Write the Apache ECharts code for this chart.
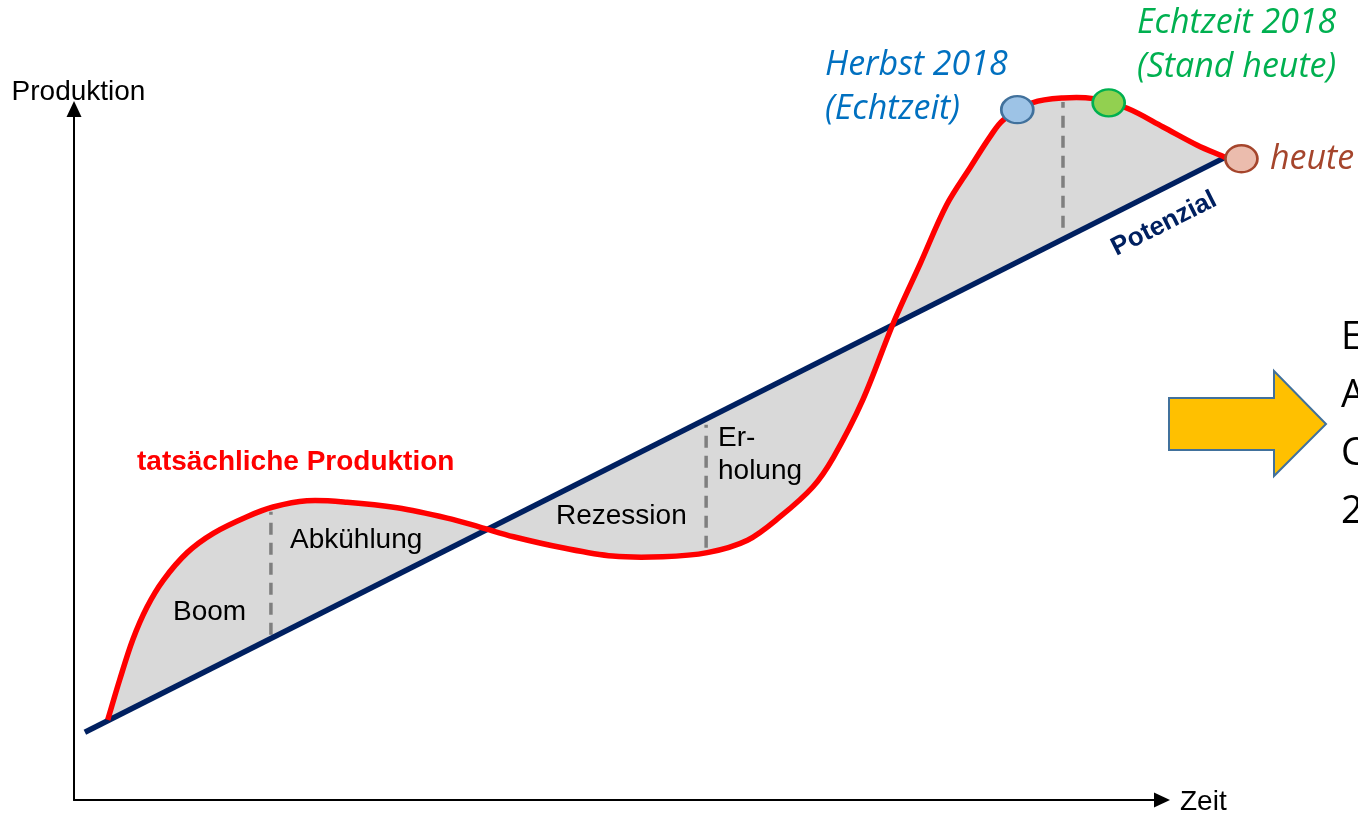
<!DOCTYPE html>
<html>
<head>
<meta charset="utf-8">
<script src="https://cdn.jsdelivr.net/npm/echarts@6/dist/echarts.min.js"></script>
<style>
  html, body { margin: 0; padding: 0; background: #fff; }
  #chart { width: 1358px; height: 814px; }
</style>
</head>
<body>
<div id="chart"></div>
<script>
// Zeit (x) und Produktion (y); sichtbare Achsen laufen von 0 bis 100
const zeit = [3.1, 4.2, 5.4, 6.7, 8.2, 10.4, 12.8, 15.9, 18.3, 21.4, 25.1, 29.7, 34.3, 37.3, 40.4, 44.9, 49.5, 54.1, 58.2, 61.9, 64.9, 67.9, 69.8, 72.5, 75.3, 77.8, 80.2, 82.4, 84.2, 85.4, 88.1, 90.9, 93.7, 96.8, 100.1, 103.2, 105.8];
const produktion = [11.6, 17.4, 23.2, 27.9, 31.8, 35.8, 38.6, 41.0, 42.4, 43.3, 43.1, 42.3, 40.8, 39.5, 38.1, 36.5, 35.3, 35.2, 35.8, 37.6, 41.0, 45.3, 49.6, 57.9, 69.0, 77.7, 86.1, 91.6, 96.0, 98.4, 100.9, 101.6, 101.5, 100.1, 97.4, 94.8, 93.0];

const potenzialX = [1.0, 105.8];
const potenzialY = [9.8, 93.0];

// gestrichelte Phasengrenzen
const phasenX = [18.1, 58.1, 90.9];
const phasenUnten = [23.9, 36.5, 82.8];
const phasenOben = [41.7, 54.3, 101.0];

// Herbst 2018, Echtzeit 2018, heute
const punkteX = [86.7, 95.1, 107.3];
const punkteY = [99.9, 100.9, 92.8];
const punkteFarbe = ["#9DC3E6", "#92D050", "#EBBCAD"];
const punkteRand = ["#41719C", "#00B050", "#A5452C"];

const chart = echarts.init(document.getElementById("chart"));

const sansFont = '"Liberation Sans", Arial, sans-serif';
const italicFont = '"Open Sans", sans-serif';

// glatte Kurve durch die Pixelpunkte; Tangentenlänge richtet sich nach der Segmentlänge
const curvePath = (pts) => {
  const n = pts.length;
  const dir = pts.map((p, i) => {
    const a = pts[Math.max(i - 1, 0)];
    const b = pts[Math.min(i + 1, n - 1)];
    const dx = b[0] - a[0], dy = b[1] - a[1];
    const len = Math.hypot(dx, dy) || 1;
    return [dx / len, dy / len];
  });
  let d = "M" + pts[0][0] + " " + pts[0][1];
  for (let i = 0; i < n - 1; i++) {
    const p1 = pts[i], p2 = pts[i + 1];
    const L = Math.hypot(p2[0] - p1[0], p2[1] - p1[1]) / 3;
    const c1 = [p1[0] + dir[i][0] * L, p1[1] + dir[i][1] * L];
    const c2 = [p2[0] - dir[i + 1][0] * L, p2[1] - dir[i + 1][1] * L];
    d += " C" + c1[0] + " " + c1[1] + " " + c2[0] + " " + c2[1] + " " + p2[0] + " " + p2[1];
  }
  return d;
};

const hiddenAxis = (gridIndex, max) => ({
  type: "value", gridIndex: gridIndex, min: 0, max: max, show: false
});

const arrowAxis = (name, gap, extra) => Object.assign({
  type: "value",
  gridIndex: 1,
  min: 0,
  max: 100,
  name: name,
  nameLocation: "end",
  nameGap: gap,
  axisLine: {
    show: true,
    symbol: ["none", "triangle"],
    symbolSize: [15, 16],
    lineStyle: {color: "#000", width: 2}
  },
  axisTick: {show: false},
  axisLabel: {show: false},
  splitLine: {show: false}
}, extra);

const dashSeries = phasenX.map((x, i) => ({
  type: "line",
  data: [[x, phasenUnten[i]], [x, phasenOben[i]]],
  symbol: "none",
  silent: true,
  z: 3,
  lineStyle: {color: "#7F7F7F", width: 3.5, type: [12, 8]}
}));

const label = (text, x, y, opts) => ({
  type: "text",
  x: x,
  y: y,
  z: 20,
  style: Object.assign({
    text: text,
    font: "28px " + sansFont,
    fill: "#000",
    verticalAlign: "middle"
  }, opts || {})
});

const curveSeries = (name, z, style, closed) => ({
  name: name,
  type: "custom",
  silent: true,
  z: z,
  data: [[zeit[0], produktion[0]]],
  renderItem: (params, api) => {
    const pts = zeit.map((x, i) => api.coord([x, produktion[i]]));
    return {
      type: "path",
      shape: {pathData: curvePath(pts) + (closed ? " Z" : "")},
      style: style
    };
  }
});

const options = {
  animation: false,
  grid: [
    // Datenbereich (gleicher Massstab wie die Achsen, nur groesser)
    {left: 74, right: 32.8, top: 39.9, bottom: 14},
    // sichtbare Achsen mit Pfeilen
    {left: 74, right: 196, top: 109, bottom: 14}
  ],
  xAxis: [
    hiddenAxis(0, 115),
    arrowAxis("", 18, {})
  ],
  yAxis: [
    hiddenAxis(0, 110),
    arrowAxis("Produktion", 3, {
      nameTextStyle: {color: "#000", fontSize: 28, fontFamily: sansFont, padding: [0, 0, 0, 9]}
    })
  ],
  series: [
    // Fläche zwischen Produktion und Potenzial (Start und Ende liegen auf der Potenziallinie)
    curveSeries("Output-Lücke", 1, {fill: "#D9D9D9", stroke: null}, true),
    ...dashSeries,
    {
      name: "Potenzial",
      type: "line",
      data: potenzialX.map((x, i) => [x, potenzialY[i]]),
      symbol: "none",
      lineStyle: {color: "#002060", width: 5.5},
      z: 4
    },
    curveSeries("tatsächliche Produktion", 5, {fill: null, stroke: "#FF0000", lineWidth: 5.5, lineJoin: "round", lineCap: "butt"}, false),
    {
      type: "scatter",
      symbolSize: [32, 27],
      z: 6,
      data: punkteX.map((x, i) => ({
        value: [x, punkteY[i]],
        itemStyle: {color: punkteFarbe[i], borderColor: punkteRand[i], borderWidth: 2.5, opacity: 1}
      }))
    }
  ],
  graphic: [
    label("Zeit", 1180, 802),
    label("tatsächliche Produktion", 137, 462, {font: "bold 28px " + sansFont, fill: "#FF0000"}),
    label("Boom", 173, 612),
    label("Abkühlung", 290, 540),
    label("Rezession", 556, 516),
    label("Er-", 718, 438),
    label("holung", 718, 471),
    {
      type: "text",
      x: 1164,
      y: 224,
      rotation: 0.466,
      z: 20,
      style: {
        text: "Potenzial",
        font: "bold 26px " + sansFont,
        fill: "#002060",
        align: "center",
        verticalAlign: "middle"
      }
    },
    label("Herbst 2018", 825, 65, {font: "italic 34px " + italicFont, fill: "#0070C0"}),
    label("(Echtzeit)", 825, 109, {font: "italic 34px " + italicFont, fill: "#0070C0"}),
    label("Echtzeit 2018", 1137, 23, {font: "italic 34px " + italicFont, fill: "#00B050"}),
    label("(Stand heute)", 1137, 67, {font: "italic 34px " + italicFont, fill: "#00B050"}),
    label("heute", 1270, 159, {font: "italic 34px " + italicFont, fill: "#A5452C"}),
    {
      type: "polygon",
      z: 10,
      shape: {points: [[1169, 398], [1274, 398], [1274, 371], [1326, 424], [1274, 476], [1274, 450], [1169, 450]]},
      style: {fill: "#FFC000", stroke: "#41719C", lineWidth: 2}
    },
    label("E", 1341, 338, {font: "38px " + italicFont}),
    label("A", 1341, 396, {font: "38px " + italicFont}),
    label("C", 1341, 454, {font: "38px " + italicFont}),
    label("2", 1341, 512, {font: "38px " + italicFont})
  ]
};

chart.setOption(options);
</script>
</body>
</html>
